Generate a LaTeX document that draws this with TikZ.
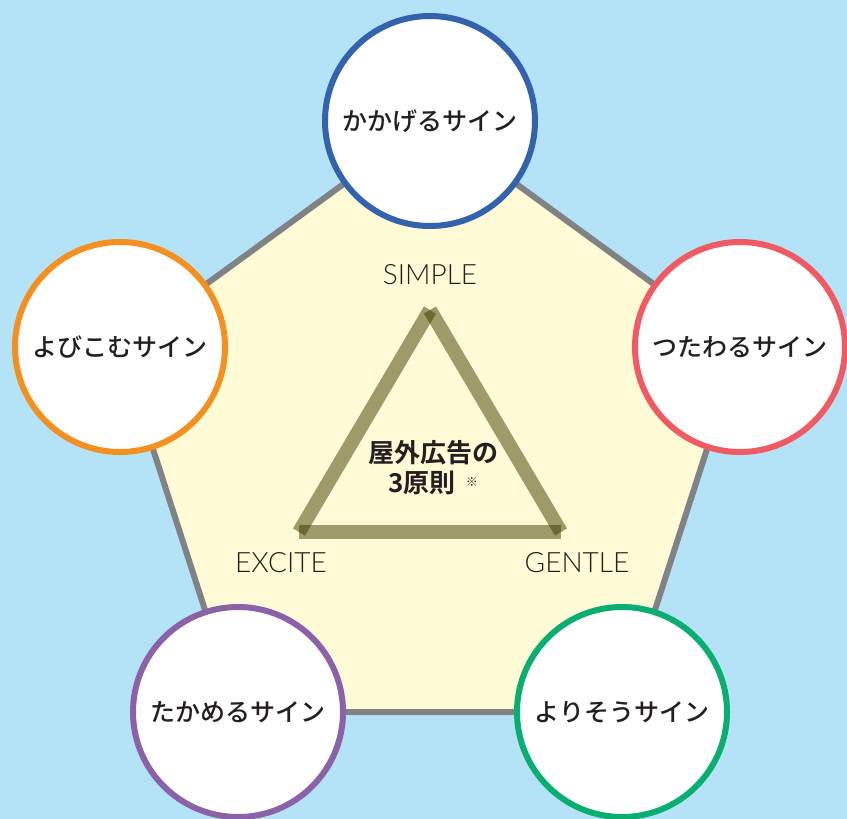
\documentclass[tikz,border=0pt]{standalone}
\usepackage{fontspec}
\IfFontExistsTF{Noto Sans CJK JP Medium}
  {\newfontfamily\jpm{Noto Sans CJK JP Medium}}
  {\newfontfamily\jpm{Noto Sans CJK JP}}
\IfFontExistsTF{Noto Sans CJK JP Bold}
  {\newfontfamily\jpb{Noto Sans CJK JP Bold}}
  {\newfontfamily\jpb{Noto Sans CJK JP}}
\IfFontExistsTF{Lato Light}
  {\newfontfamily\lat{Lato Light}}
  {\newfontfamily\lat{Lato}}
\definecolor{bgblue}{HTML}{B4E3F7}
\definecolor{pentfill}{HTML}{FFFBD6}
\definecolor{pentline}{HTML}{808285}
\definecolor{cblue}{HTML}{3463AE}
\definecolor{corange}{HTML}{F39020}
\definecolor{cred}{HTML}{EF5A63}
\definecolor{cpurple}{HTML}{8B62A8}
\definecolor{cgreen}{HTML}{0BAE71}
\definecolor{olivetri}{HTML}{3E3A00}
\definecolor{txt}{HTML}{231F20}
\begin{document}
\begin{tikzpicture}[x=1pt,y=-1pt,
  sign/.style={circle, draw=#1, line width=6pt, fill=white, minimum size=210pt,
    inner sep=0pt, text=txt, font=\jpm\fontsize{25}{28}\selectfont},
  triside/.style={draw=olivetri, draw opacity=0.5, line width=14pt, line cap=butt},
  principle/.style={text=txt, font=\lat\fontsize{28}{30}\selectfont, inner sep=0pt}]
\fill[bgblue] (0,0) rectangle (847,819);
\useasboundingbox (0,0) rectangle (847,819);
% centres
\coordinate (pt) at (430,121);
\coordinate (pr) at (740,347);
\coordinate (pbr) at (622,712);
\coordinate (pbl) at (238,712);
\coordinate (pl) at (120,347);
% pentagon
\draw[pentline, fill=pentfill, line width=6pt, line join=miter]
  (pt) -- (pr) -- (pbr) -- (pbl) -- (pl) -- cycle;
% triangle
\coordinate (ta) at (430,310);
\coordinate (tb) at (299,532);
\coordinate (tc) at (561,532);
\path[triside] (ta) -- (tb);
\path[triside] (tb) -- (tc);
\path[triside] (tc) -- (ta);
% labels
\node[principle] (simple) at (430,275) {SIMPLE};
\node[principle] (excite) at (281,563) {EXCITE};
\node[principle] (gentle) at (577,563) {GENTLE};
\node[text=txt, align=center, inner sep=0pt,
  font=\jpb\fontsize{26}{30}\selectfont] (title) at (433,468)
  {屋外広告の\\3原則\hspace{0.4em}\raisebox{6pt}{\fontsize{12}{12}\selectfont ※}};
% circles
\node[sign=cblue] (top) at (pt) {かかげるサイン};
\node[sign=cred] (right) at (pr) {つたわるサイン};
\node[sign=cgreen] (bright) at (pbr) {よりそうサイン};
\node[sign=cpurple] (bleft) at (pbl) {たかめるサイン};
\node[sign=corange] (left) at (pl) {よびこむサイン};
\end{tikzpicture}
\end{document}
